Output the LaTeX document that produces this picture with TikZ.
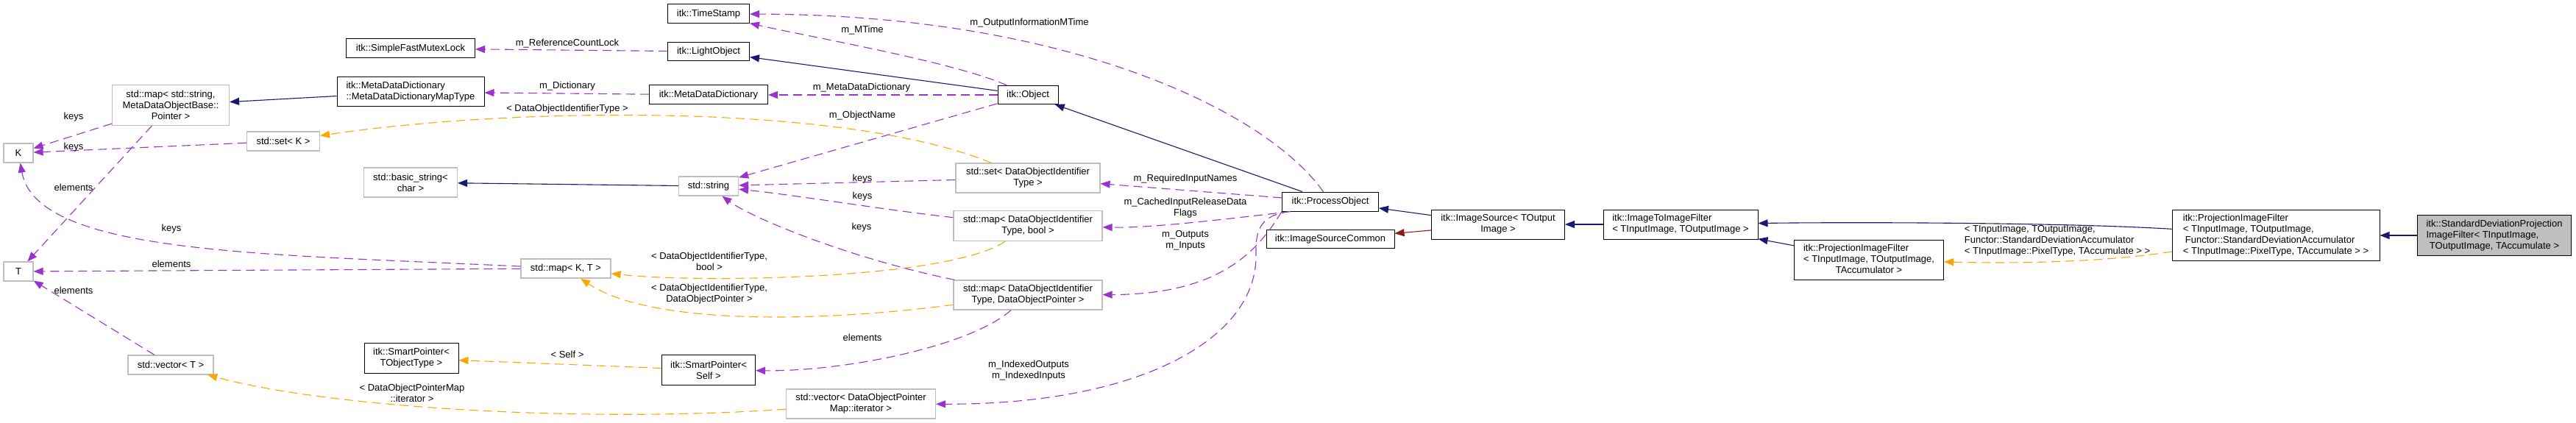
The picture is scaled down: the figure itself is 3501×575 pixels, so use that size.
\documentclass[tikz,border=0pt]{standalone}
\usepackage{fontspec}
\setmainfont{Liberation Sans}
\usetikzlibrary{arrows.meta}
\definecolor{navy}{HTML}{191970}
\definecolor{dred}{HTML}{8B1A1A}
\definecolor{orchid}{HTML}{9A32CD}
\definecolor{orng}{HTML}{FFA500}
\definecolor{gborder}{HTML}{BFBFBF}
\definecolor{mainfill}{HTML}{BFBFBF}
\begin{document}
\begin{tikzpicture}[x=1pt,y=-1pt,
  every node/.style={font=\fontsize{13}{15}\selectfont, inner sep=0pt},
  bx/.style 2 args={minimum width=#1pt, minimum height=#2pt},
  blk/.style={draw=black, line width=1pt, fill=white},
  gry/.style={draw=gborder, line width=1.2pt, fill=white},
  mainbox/.style={draw=black, line width=1pt, fill=mainfill},
  lbl/.style={align=center},
  tip/.style={-{Triangle[length=13pt,width=10pt]}},
  inh/.style={draw=navy, line width=1.1pt, tip},
  prot/.style={draw=dred, line width=1.1pt, tip},
  use/.style={draw=orchid, line width=1.1pt, dash pattern=on 12pt off 7pt, tip},
  tmpl/.style={draw=orng, line width=1.1pt, dash pattern=on 12pt off 7pt, tip}]
\fill[white] (0,0) rectangle (3501,575);
\useasboundingbox (0,0) rectangle (3501,575);

% nodes
\node[blk,bx={175}{26}] (sfml) at (558,66) {itk::SimpleFastMutexLock};
\node[blk,bx={200}{40},align=left] (mddmt) at (558,125) {itk::MetaDataDictionary\\::MetaDataDictionaryMapType};
\node[gry,bx={159}{55},align=center] (mapstr) at (232,143) {std::map< std::string,\\MetaDataObjectBase::\\Pointer >};
\node[gry,bx={99}{26}] (setK) at (385,192) {std::set< K >};
\node[gry,bx={40}{26}] (K) at (25,208) {K};
\node[gry,bx={127}{40},align=center] (bstr) at (558,248) {std::basic\_string<\\char >};
\node[gry,bx={40}{26}] (T) at (25,369) {T};
\node[gry,bx={116}{26}] (vecT) at (232,496) {std::vector< T >};
\node[blk,bx={128}{41},align=center] (spTO) at (559,487) {itk::SmartPointer<\\TObjectType >};
\node[blk,bx={111}{26}] (ts) at (963,19) {itk::TimeStamp};
\node[blk,bx={111}{25}] (lo) at (963,70) {itk::LightObject};
\node[blk,bx={161}{26}] (mdd) at (963,129) {itk::MetaDataDictionary};
\node[gry,bx={81}{26}] (str) at (963,253) {std::string};
\node[gry,bx={122}{26}] (mapKT) at (769,365) {std::map< K, T >};
\node[blk,bx={127}{41},align=center] (spSelf) at (963,503) {itk::SmartPointer<\\Self >};
\node[blk,bx={82}{25}] (obj) at (1397,129) {itk::Object};
\node[gry,bx={196}{40},align=center] (setDOI) at (1397,242) {std::set< DataObjectIdentifier\\Type >};
\node[gry,bx={202}{41},align=center] (mapbool) at (1397,307) {std::map< DataObjectIdentifier\\Type, bool >};
\node[gry,bx={202}{40},align=center] (mapdop) at (1397,401) {std::map< DataObjectIdentifier\\Type, DataObjectPointer >};
\node[gry,bx={203}{40},align=center] (vecdop) at (1170,549) {std::vector< DataObjectPointer\\Map::iterator >};
\node[blk,bx={131}{26}] (po) at (1808,274) {itk::ProcessObject};
\node[blk,bx={174}{25}] (isc) at (1808,325) {itk::ImageSourceCommon};
\node[blk,bx={181}{40},align=center] (is) at (2036,305) {itk::ImageSource< TOutput\\Image >};
\node[blk,bx={210}{40},align=left] (itif) at (2284,305) {itk::ImageToImageFilter\\< TInputImage, TOutputImage >};
\node[blk,bx={203}{54}] (pif1) at (2540,353) {\begin{tabular}{@{}l@{}}itk::ProjectionImageFilter\\< TInputImage, TOutputImage,\\\multicolumn{1}{@{}c@{}}{TAccumulator >}\end{tabular}};
\node[blk,bx={282}{69},align=left] (pif2) at (3093,320) {itk::ProjectionImageFilter\\< TInputImage, TOutputImage,\\\hspace*{3pt}Functor::StandardDeviationAccumulator\\< TInputImage::PixelType, TAccumulate > >};
\node[mainbox,bx={209}{55}] (sd) at (3390,320) {\begin{tabular}{@{}l@{}}itk::StandardDeviationProjection\\ImageFilter< TInputImage,\\\multicolumn{1}{@{}c@{}}{TOutputImage, TAccumulate >}\end{tabular}};

% inheritance
\draw[inh] (mddmt) -- (mapstr);
\draw[inh] (obj) -- (lo);
\draw[inh] (str) -- (bstr);
\draw[inh] (po) -- (obj);
\draw[inh] (is) -- (po);
\draw[prot] (is) -- (isc);
\draw[inh] (itif) -- (is);
\draw[inh] (pif2) .. controls (2800,302) and (2500,302) .. (itif);
\draw[inh] (pif1) -- (itif);
\draw[inh] (sd) -- (pif2);

% template instances
\draw[tmpl] (pif2) .. controls (2850,358) and (2720,358) .. (pif1);
\draw[tmpl] (setDOI) .. controls (1150,140) and (700,145) .. (setK);
\draw[tmpl] (mapbool) .. controls (1290,380) and (950,385) .. (mapKT);
\draw[tmpl] (mapdop) .. controls (1100,440) and (880,440) .. (mapKT);
\draw[tmpl] (spSelf) -- (spTO);
\draw[tmpl] (vecdop) .. controls (800,575) and (450,555) .. (vecT);

% usage
\draw[use] (lo) -- (sfml);
\draw[use] (mdd) -- (mddmt);
\draw[use] (obj) .. controls (1300,85) and (1100,50) .. (ts);
\draw[use] (po) .. controls (1720,150) and (1450,20) .. (ts);
\draw[use] (obj) -- (mdd);
\draw[use] (obj) -- (str);
\draw[use] (setDOI) -- (str);
\draw[use] (mapbool) .. controls (1200,285) and (1080,265) .. (str);
\draw[use] (mapdop) .. controls (1150,350) and (1020,295) .. (str);
\draw[use] (po) -- (setDOI);
\draw[use] (po.194) .. controls (1650,300) and (1560,310) .. (mapbool);
\draw[use] (po.south west) .. controls (1710,340) and (1660,400) .. (mapdop);
\draw[use] (po.194) .. controls (1715,292) and (1706,310) .. (1707,345) .. controls (1710,460) and (1550,550) .. (vecdop);
\draw[use] (mapdop) .. controls (1320,470) and (1150,505) .. (spSelf);
\draw[use] (mapstr) -- (K);
\draw[use] (setK) -- (K);
\draw[use] (mapstr) -- (T);
\draw[use] (mapKT) .. controls (350,345) and (50,345) .. (K);
\draw[use] (mapKT) -- (T);
\draw[use] (vecT) -- (T);

% labels
\node[lbl] (l1) at (771,59) {m\_ReferenceCountLock};
\node[lbl] (l2) at (771,117) {m\_Dictionary};
\node[lbl] (l3) at (771,148) {< DataObjectIdentifierType >};
\node[lbl] (l4) at (1172,41) {m\_MTime};
\node[lbl] (l5) at (1171,119) {m\_MetaDataDictionary};
\node[lbl] (l6) at (1172,157) {m\_ObjectName};
\node[lbl] (l7) at (1172,243) {keys};
\node[lbl] (l8) at (1172,267) {keys};
\node[lbl] (l9) at (1171,309) {keys};
\node[lbl] (l10) at (1399,31) {m\_OutputInformationMTime};
\node[lbl] (l11) at (1611,243) {m\_RequiredInputNames};
\node[lbl] (l12) at (1611,283) {m\_CachedInputReleaseData\\Flags};
\node[lbl] (l13) at (1611,326.5) {m\_Outputs\\m\_Inputs};
\node[lbl] (l14) at (1398,503.5) {m\_IndexedOutputs\\m\_IndexedInputs};
\node[lbl] (l15) at (1172,459) {elements};
\node[lbl] (l16) at (964,355.5) {< DataObjectIdentifierType,\\bool >};
\node[lbl] (l17) at (964,399.5) {< DataObjectIdentifierType,\\DataObjectPointer >};
\node[lbl] (l18) at (771,482) {< Self >};
\node[lbl] (l19) at (560,534) {< DataObjectPointerMap\\::iterator >};
\node[lbl] (l20) at (100,159) {keys};
\node[lbl] (l21) at (100,200) {keys};
\node[lbl] (l22) at (100,255) {elements};
\node[lbl] (l23) at (233,311) {keys};
\node[lbl] (l24) at (233,359) {elements};
\node[lbl] (l25) at (100,395) {elements};
\node[align=left] (l26) at (2796,327) {< TInputImage, TOutputImage,\\Functor::StandardDeviationAccumulator\\< TInputImage::PixelType, TAccumulate > >};
\end{tikzpicture}
\end{document}
